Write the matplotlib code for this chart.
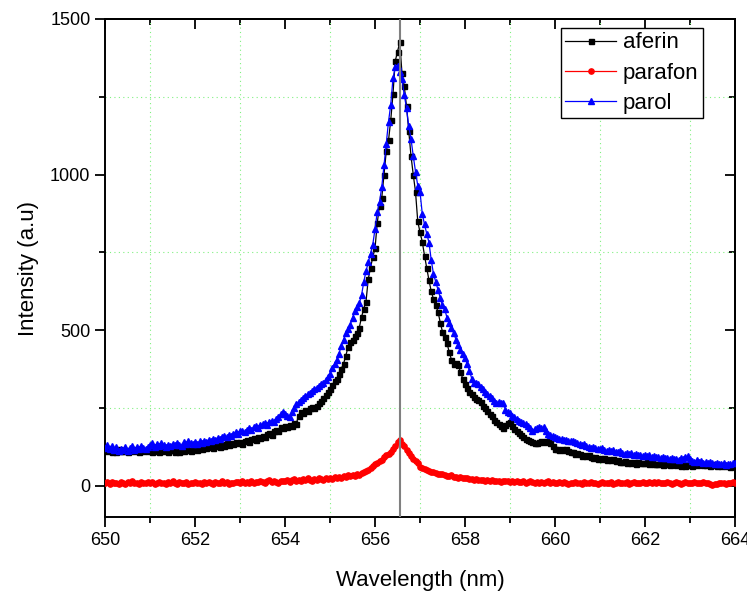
import numpy as np
import matplotlib
matplotlib.use("Agg")
import matplotlib.pyplot as plt
from matplotlib.ticker import MultipleLocator

plt.rcParams["font.family"] = ["Liberation Sans", "DejaVu Sans"]

# sampling grid of the spectra, 650-664 nm every 0.05 nm (281 points)
wavelength = np.round(np.linspace(650.0, 664.0, 281), 2)

# values, one row per nm
aferin = [
    118, 112, 121, 110, 116, 108, 119, 113, 111, 117, 109, 115, 120, 112, 114, 108, 118, 111, 116, 113,
    115, 110, 118, 112, 109, 116, 111, 119, 108, 114, 117, 110, 113, 109, 116, 112, 118, 114, 111, 120,
    122, 117, 125, 119, 127, 121, 124, 130, 123, 128, 132, 126, 134, 129, 137, 131, 139, 135, 141, 137,
    140, 136, 144, 147, 142, 150, 153, 148, 157, 155, 161, 158, 166, 170, 164, 175, 181, 176, 188, 186,
    192, 189, 197, 194, 201, 199, 226, 238, 235, 244, 241, 249, 253, 251, 258, 266, 274, 283, 291, 302,
    312, 325, 336, 344, 359, 376, 392, 418, 445, 462, 470, 482, 490, 508, 542, 570, 592, 665, 700, 735,
    763, 845, 900, 925, 1000, 1075, 1110, 1175, 1260, 1365, 1395, 1425, 1325, 1285, 1220, 1140, 1060, 1000, 945, 850,
    815, 785, 740, 700, 660, 625, 600, 580, 560, 525, 495, 478, 458, 430, 405, 392, 395, 390, 365, 345,
    328, 315, 302, 294, 285, 280, 276, 270, 258, 250, 240, 232, 224, 212, 205, 198, 192, 187, 196, 203,
    204, 192, 183, 177, 170, 164, 156, 150, 148, 144, 141, 139, 138, 140, 143, 141, 144, 146, 138, 127,
    118, 120, 116, 119, 117, 118, 112, 108, 110, 104, 106, 102, 97, 101, 95, 98, 92, 90, 94, 88,
    91, 87, 89, 85, 88, 84, 86, 80, 83, 78, 76, 79, 74, 77, 73, 76, 72, 78, 74, 75,
    73, 77, 71, 74, 70, 72, 69, 73, 68, 71, 70, 66, 72, 69, 67, 71, 65, 68, 64, 66,
    69, 65, 71, 67, 70, 72, 68, 66, 70, 64, 67, 69, 65, 68, 63, 66, 64, 67, 62, 65,
    66,
]

parafon = [
    8, 12, 6, 14, 9, 11, 5, 13, 10, 7, 12, 9, 15, 8, 11, 6, 13, 10, 8, 12,
    9, 13, 7, 11, 14, 8, 10, 6, 12, 9, 15, 11, 7, 13, 10, 8, 12, 6, 11, 9,
    13, 8, 11, 7, 12, 10, 14, 9, 6, 12, 11, 8, 15, 10, 13, 7, 11, 9, 14, 12,
    10, 15, 8, 13, 11, 16, 9, 14, 12, 17, 13, 10, 15, 18, 12, 16, 14, 11, 17, 15,
    15, 19, 13, 18, 21, 16, 20, 17, 22, 18, 24, 20, 17, 23, 19, 25, 21, 18, 24, 22,
    26, 23, 28, 25, 30, 27, 32, 29, 34, 31, 35, 33, 38, 36, 41, 45, 48, 52, 58, 64,
    70, 75, 80, 85, 92, 99, 104, 110, 120, 128, 142, 147, 136, 128, 115, 105, 96, 88, 80, 74,
    62, 58, 54, 50, 48, 46, 44, 42, 40, 38, 37, 35, 33, 32, 34, 30, 29, 27, 28, 26,
    25, 24, 22, 23, 20, 21, 19, 18, 20, 17, 19, 16, 18, 15, 17, 16, 14, 17, 15, 16,
    14, 16, 13, 15, 12, 14, 16, 11, 13, 15, 12, 10, 14, 11, 13, 9, 12, 15, 10, 13,
    11, 9, 13, 8, 12, 10, 7, 11, 9, 13, 8, 10, 6, 12, 9, 11, 14, 8, 10, 7,
    10, 13, 8, 11, 9, 12, 7, 10, 14, 8, 11, 9, 13, 7, 10, 12, 8, 11, 9, 12,
    8, 11, 13, 9, 12, 10, 14, 8, 11, 9, 12, 10, 7, 11, 13, 9, 6, 10, 12, 8,
    11, 9, 12, 10, 8, 11, 13, 9, 10, 5, 4, 7, 6, 9, 8, 10, 7, 11, 9, 12,
    10,
]

parol = [
    122, 130, 118, 127, 115, 124, 112, 120, 116, 126, 113, 121, 128, 117, 124, 119, 127, 121, 118, 125,
    131, 138, 126, 134, 128, 137, 130, 125, 133, 128, 136, 131, 138, 133, 129, 140, 135, 143, 138, 134,
    140, 136, 143, 139, 146, 142, 148, 144, 151, 147, 155, 150, 158, 162, 156, 165, 160, 168, 172, 167,
    175, 178, 172, 181, 186, 180, 189, 193, 187, 196, 199, 203, 197, 206, 210, 205, 215, 222, 230, 238,
    232, 225, 221, 236, 250, 262, 270, 275, 281, 288, 295, 300, 304, 310, 316, 322, 326, 331, 340, 350,
    360, 378, 392, 405, 425, 450, 470, 490, 505, 518, 540, 562, 575, 588, 612, 655, 690, 718, 745, 775,
    825, 880, 912, 960, 1030, 1100, 1170, 1225, 1310, 1345, 1350, 1330, 1308, 1255, 1215, 1155, 1115, 1060, 1010, 965,
    945, 875, 840, 810, 782, 725, 681, 655, 630, 605, 580, 568, 540, 522, 508, 490, 470, 452, 438, 425,
    410, 392, 370, 345, 332, 330, 328, 318, 310, 302, 296, 288, 281, 274, 268, 269, 267, 266, 245, 236,
    233, 226, 221, 215, 210, 205, 202, 199, 192, 186, 178, 182, 186, 190, 186, 188, 176, 168, 164, 160,
    157, 154, 152, 150, 147, 149, 145, 143, 146, 141, 138, 135, 132, 134, 128, 125, 123, 126, 121, 119,
    118, 121, 116, 113, 117, 112, 115, 110, 108, 112, 105, 104, 107, 102, 105, 100, 103, 98, 101, 97,
    99, 95, 98, 93, 96, 92, 94, 90, 93, 89, 91, 87, 90, 86, 88, 85, 89, 87, 92, 96,
    86, 81, 78, 82, 76, 79, 75, 78, 73, 77, 74, 71, 75, 72, 70, 74, 68, 72, 70, 73,
    74,
]

line_position = 656.56

fig = plt.figure(figsize=(7.47, 5.93), dpi=100)
ax = fig.add_axes([0.1406, 0.128, 0.8433, 0.84])

ax.plot(wavelength, aferin, color="black", lw=0.9, marker="s", ms=3.6, label="aferin", zorder=3)
ax.plot(wavelength, parafon, color="red", lw=0.9, marker="o", ms=3.8, label="parafon", zorder=3)
ax.plot(wavelength, parol, color="blue", lw=0.9, marker="^", ms=4.6, label="parol", zorder=4)
ax.axvline(line_position, color="#808080", lw=1.5, zorder=5)

ax.set_xlim(650, 664)
ax.set_ylim(-100, 1500)
ax.xaxis.set_major_locator(MultipleLocator(2))
ax.xaxis.set_minor_locator(MultipleLocator(1))
ax.yaxis.set_major_locator(MultipleLocator(500))
ax.yaxis.set_minor_locator(MultipleLocator(250))
ax.grid(which="minor", color="#80F080", linestyle=(0, (1, 3)), lw=0.8)
ax.grid(which="major", visible=False)
ax.tick_params(which="major", direction="out", length=7, width=1.3, labelsize=13)
ax.tick_params(which="minor", direction="out", length=4, width=1.3)

# mirrored ticks on top and right, pointing inward
top = ax.secondary_xaxis("top")
right = ax.secondary_yaxis("right")
top.xaxis.set_major_locator(MultipleLocator(2))
top.xaxis.set_minor_locator(MultipleLocator(1))
right.yaxis.set_major_locator(MultipleLocator(500))
right.yaxis.set_minor_locator(MultipleLocator(250))
for sec in (top, right):
    sec.tick_params(which="major", direction="in", length=7, width=1.3,
                    labeltop=False, labelright=False)
    sec.tick_params(which="minor", direction="in", length=4, width=1.3)
for a in (ax, top, right):
    for s in a.spines.values():
        s.set_linewidth(1.4)

ax.set_xlabel("Wavelength (nm)", fontsize=16, labelpad=15)
ax.set_ylabel("Intensity (a.u)", fontsize=16, labelpad=8)

leg = ax.legend(loc="upper right", bbox_to_anchor=(0.949, 0.982), borderaxespad=0,
                fontsize=16, fancybox=False, edgecolor="black", framealpha=1,
                handlelength=2.3, handletextpad=0.3, labelspacing=0.42, borderpad=0.2)
leg.get_frame().set_linewidth(1.0)

fig.savefig("out.png", dpi=100)
